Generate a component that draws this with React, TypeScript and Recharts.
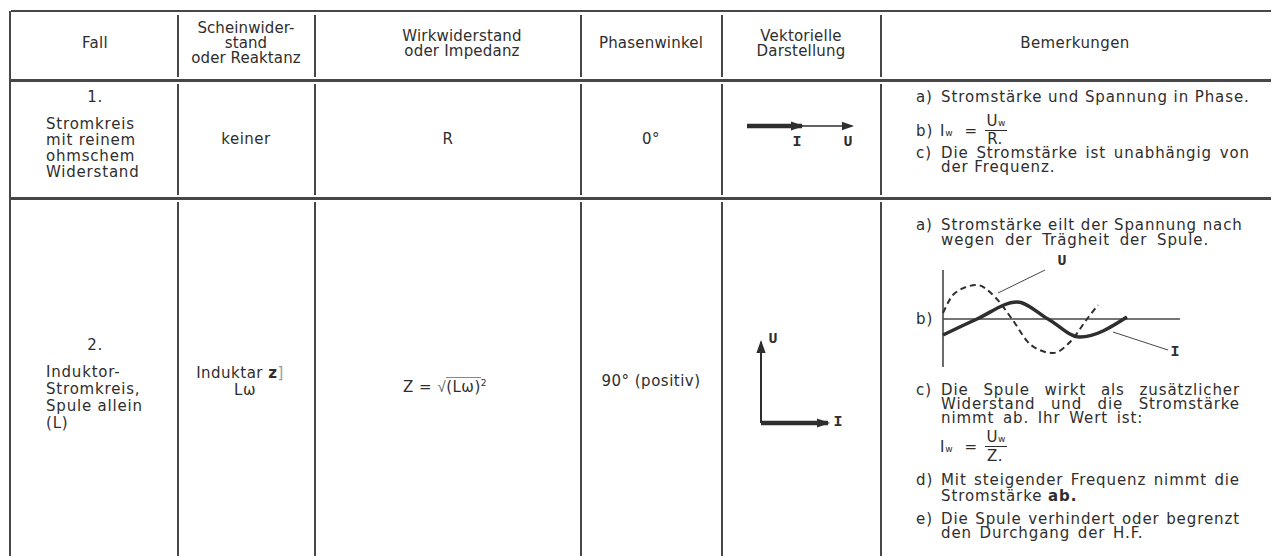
import React from "react";
import { LineChart, Line, XAxis, YAxis, ReferenceLine } from "recharts";

// Fall 1: ohmscher Widerstand, I und U in Phase (gleiche Richtung)
const vecOhmI = [{ x: 0, y: 0 }, { x: 55, y: 0 }];
const vecOhmU = [{ x: 0, y: 0 }, { x: 105, y: 0 }];
// Fall 2: Spule, U eilt I um 90° voraus
const vecIndU = [{ x: 0, y: 0 }, { x: 0, y: 81 }];
const vecIndI = [{ x: 0, y: 0 }, { x: 67, y: 0 }];

// Skizze b) bei Fall 2
const waveTimeI = [0, 34, 74, 105, 137, 184];
const waveI = [-16, 0, 17, 0, -18, 2];
const waveTimeU = [0, 12, 34, 52, 69, 88, 110, 128, 144, 155];
const waveU = [6, 26, 34, 22, 0, -26, -34, -22, 0, 14];

const iData = waveTimeI.map((t, k) => ({ t, v: waveI[k] }));
const uData = waveTimeU.map((t, k) => ({ t, v: waveU[k] }));

const INK = "#2e2e2e";
const RULE = "#474747";
const ZERO = { top: 0, right: 0, bottom: 0, left: 0 };

const HRule = ({ y, x1 = 11, x2 = 1271, w = 2.5 }: any) => (
  <div style={{ position: "absolute", left: x1, top: y - w / 2, width: x2 - x1, height: w, background: RULE }} />
);
const VRule = ({ x, y1, y2, w = 1.3 }: any) => (
  <div style={{ position: "absolute", left: x - w / 2, top: y1, width: w, height: y2 - y1, background: RULE }} />
);

// one text line, y = middle of the line
const T = ({ x, cx, y, w, ls, lh = 14, size, children, style }: any) => {
  const s: React.CSSProperties = {
    position: "absolute",
    top: y - lh / 2,
    height: lh,
    lineHeight: `${lh}px`,
    whiteSpace: "nowrap",
    letterSpacing: ls ?? 0.5,
    fontSize: size ?? 15,
    ...style,
  };
  if (cx !== undefined) {
    s.left = cx - 150;
    s.width = 300;
    s.textAlign = "center";
  } else {
    s.left = x;
    if (w) {
      s.width = w;
      s.textAlign = "justify";
      s.textAlignLast = "justify";
    }
  }
  return <div style={s}>{children}</div>;
};

const Sub = ({ children }: any) => <span style={{ fontSize: 9, letterSpacing: 0 }}>{children}</span>;

const VecLabel = ({ x, y, children }: any) => (
  <div
    style={{
      position: "absolute",
      left: x - 6,
      top: y - 8,
      width: 12,
      height: 16,
      textAlign: "center",
      lineHeight: "16px",
      fontFamily: "'Liberation Mono', monospace",
      fontWeight: 700,
      fontSize: 15,
    }}
  >
    {children}
  </div>
);

const arrowHead = (dir: "right" | "up", size: number) => (p: any) => {
  const { cx, cy, index } = p;
  if (index !== 1 || cx == null) return <g key={`n${index}`} />;
  const h = size * 0.42;
  const pts =
    dir === "right"
      ? `${cx + 2},${cy} ${cx - size},${cy - h} ${cx - size},${cy + h}`
      : `${cx},${cy - 2} ${cx - h},${cy + size} ${cx + h},${cy + size}`;
  return <polygon key={`a${index}`} points={pts} fill={INK} />;
};

const VecChart = ({ left, top, width, height, xDom, yDom, series }: any) => (
  <div style={{ position: "absolute", left, top }}>
    <LineChart width={width} height={height} margin={ZERO}>
      <XAxis type="number" dataKey="x" domain={xDom} hide allowDataOverflow />
      <YAxis type="number" domain={yDom} hide allowDataOverflow />
      {series.map((s: any, k: number) => (
        <Line
          key={k}
          data={s.data}
          dataKey="y"
          type="linear"
          stroke={INK}
          strokeWidth={s.w}
          dot={arrowHead(s.dir, s.head)}
          activeDot={false}
          isAnimationActive={false}
        />
      ))}
    </LineChart>
  </div>
);

const cols = [178, 315, 581, 722, 881];
const bands = [
  [15, 77],
  [84, 195],
  [202, 556],
];

export default function App() {
  return (
    <div
      style={{
        position: "absolute",
        left: 0,
        top: 0,
        width: 1274,
        height: 556,
        overflow: "hidden",
        background: "#fff",
        color: INK,
        fontFamily: "'DejaVu Sans', sans-serif",
      }}
    >
      {/* table rules */}
      <HRule y={11} />
      <HRule y={80} w={3} />
      <HRule y={198.5} />
      <VRule x={10} y1={11} y2={556} w={2} />
      {cols.map((x) => bands.map(([a, b]) => <VRule key={`${x}-${a}`} x={x} y1={a} y2={b} />))}

      {/* header */}
      <T cx={95} y={43} ls={0.3}>Fall</T>
      <T cx={246} y={28} ls={0.1}>Scheinwider-</T>
      <T cx={246} y={43} ls={0.1}>stand</T>
      <T cx={246} y={58} ls={0.1}>oder Reaktanz</T>
      <T cx={462} y={36} ls={0.2}>Wirkwiderstand</T>
      <T cx={462} y={51} ls={0.2}>oder Impedanz</T>
      <T cx={651} y={43} ls={0.2}>Phasenwinkel</T>
      <T cx={801} y={36} ls={0.2}>Vektorielle</T>
      <T cx={801} y={51} ls={0.2}>Darstellung</T>
      <T cx={1075} y={43} ls={0.4}>Bemerkungen</T>

      {/* Fall 1 */}
      <T cx={95} y={97}>1.</T>
      <T x={46} y={124} ls={0.8}>Stromkreis</T>
      <T x={46} y={140} ls={0.8}>mit reinem</T>
      <T x={46} y={156} ls={0.8}>ohmschem</T>
      <T x={46} y={172} ls={0.8}>Widerstand</T>
      <T cx={246} y={139}>keiner</T>
      <T cx={448} y={139}>R</T>
      <T cx={651} y={139}>0°</T>
      <VecChart
        left={737}
        top={106}
        width={130}
        height={40}
        xDom={[-10, 120]}
        yDom={[-20, 20]}
        series={[
          { data: vecOhmU, w: 1.6, dir: "right", head: 10 },
          { data: vecOhmI, w: 4.5, dir: "right", head: 11 },
        ]}
      />
      <VecLabel x={797} y={143}>I</VecLabel>
      <VecLabel x={848} y={143}>U</VecLabel>

      <T x={916} y={97} ls={0.9}>a)</T>
      <T x={941} y={97} ls={0.9}>Stromstärke und Spannung in Phase.</T>
      <T x={916} y={131} ls={0.9}>b)</T>
      <T x={940} y={131} ls={0.9}>
        I<Sub>w</Sub> <span style={{ marginLeft: 6 }}>=</span>
      </T>
      <T cx={996} y={121} lh={11} ls={0.5}>
        U<Sub>w</Sub>
      </T>
      <div style={{ position: "absolute", left: 985, top: 129.5, width: 22, height: 1.3, background: INK }} />
      <T cx={995} y={139} lh={11} ls={0.5}>R.</T>
      <T x={916} y={153} ls={0.9}>c)</T>
      <T x={941} y={153} w={309} ls={0.9}>Die Stromstärke ist unabhängig von</T>
      <T x={941} y={167} ls={0.9}>der Frequenz.</T>

      {/* Fall 2 */}
      <T cx={95} y={345}>2.</T>
      <T x={46} y={372} ls={0.8}>Induktor-</T>
      <T x={46} y={389} ls={0.8}>Stromkreis,</T>
      <T x={46} y={406} ls={0.8}>Spule allein</T>
      <T x={46} y={423} ls={0.8}>(L)</T>
      <T cx={240} y={373}>
        Induktar <b>z</b>
        <span style={{ color: "#999" }}>]</span>
      </T>
      <T cx={245} y={390}>Lω</T>
      <T cx={445} y={383}>
        Z = <span style={{ fontWeight: 300, color: "#666" }}>√</span>
        <span style={{ borderTop: "1px solid #888" }}>(Lω)</span>
        <span style={{ fontSize: 9, verticalAlign: 6 }}>2</span>
      </T>
      <T cx={651} y={381}>90° (positiv)</T>
      <VecChart
        left={741}
        top={330}
        width={100}
        height={105}
        xDom={[-20, 80]}
        yDom={[-12, 93]}
        series={[
          { data: vecIndU, w: 2, dir: "up", head: 11 },
          { data: vecIndI, w: 4.5, dir: "right", head: 11 },
        ]}
      />
      <VecLabel x={773} y={340}>U</VecLabel>
      <VecLabel x={838} y={423}>I</VecLabel>

      <T x={916} y={225} ls={0.9}>a)</T>
      <T x={941} y={225} w={300} ls={0.9}>Stromstärke eilt der Spannung nach</T>
      <T x={941} y={240} ls={0.9} style={{ wordSpacing: 4 }}>wegen der Trägheit der Spule.</T>

      <div style={{ position: "absolute", left: 938, top: 250 }}>
        <LineChart width={250} height={120} margin={ZERO}>
          <XAxis type="number" dataKey="t" domain={[-5, 245]} hide allowDataOverflow />
          <YAxis type="number" domain={[-51, 69]} hide allowDataOverflow />
          <ReferenceLine segment={[{ x: 0, y: 0 }, { x: 237, y: 0 }]} stroke={RULE} strokeWidth={1.3} />
          <ReferenceLine segment={[{ x: 0, y: 49 }, { x: 0, y: -48 }]} stroke={RULE} strokeWidth={1.6} />
          <ReferenceLine segment={[{ x: 55, y: 26 }, { x: 102, y: 49 }]} stroke={RULE} strokeWidth={1} />
          <ReferenceLine segment={[{ x: 170, y: -13 }, { x: 225, y: -31 }]} stroke={RULE} strokeWidth={1} />
          <Line
            data={uData}
            dataKey="v"
            type="monotone"
            stroke={INK}
            strokeWidth={2}
            strokeDasharray="6 4"
            dot={false}
            activeDot={false}
            isAnimationActive={false}
          />
          <Line
            data={iData}
            dataKey="v"
            type="monotone"
            stroke={INK}
            strokeWidth={3.5}
            dot={false}
            activeDot={false}
            isAnimationActive={false}
          />
        </LineChart>
      </div>
      <VecLabel x={1062} y={262}>U</VecLabel>
      <VecLabel x={1175} y={353}>I</VecLabel>
      <T x={916} y={319} ls={0.9}>b)</T>

      <T x={916} y={390} ls={0.9}>c)</T>
      <T x={941} y={390} w={299} ls={0.9}>Die Spule wirkt als zusätzlicher</T>
      <T x={941} y={404} w={299} ls={0.9}>Widerstand und die Stromstärke</T>
      <T x={941} y={418} ls={0.9} style={{ wordSpacing: 3 }}>nimmt ab. Ihr Wert ist:</T>
      <T x={940} y={447} ls={0.9}>
        I<Sub>w</Sub> <span style={{ marginLeft: 6 }}>=</span>
      </T>
      <T cx={996} y={437} lh={11} ls={0.5}>
        U<Sub>w</Sub>
      </T>
      <div style={{ position: "absolute", left: 985, top: 445.5, width: 22, height: 1.3, background: INK }} />
      <T cx={995} y={456} lh={11} ls={0.5}>Z.</T>
      <T x={916} y={480} ls={0.9}>d)</T>
      <T x={941} y={480} w={299} ls={0.9}>Mit steigender Frequenz nimmt die</T>
      <T x={941} y={496} ls={0.9}>
        Stromstärke <b>ab.</b>
      </T>
      <T x={916} y={519} ls={0.9}>e)</T>
      <T x={941} y={519} w={299} ls={0.9}>Die Spule verhindert oder begrenzt</T>
      <T x={941} y={533} ls={0.9} style={{ wordSpacing: 2 }}>den Durchgang der H.F.</T>
    </div>
  );
}
